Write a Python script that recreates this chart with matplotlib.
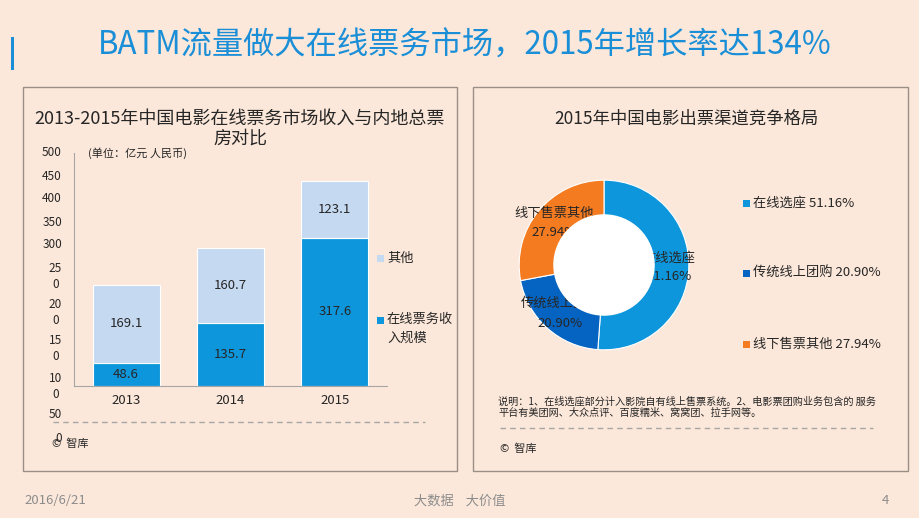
import matplotlib
matplotlib.use('Agg')
import matplotlib.pyplot as plt
from matplotlib.patches import Rectangle, Circle
import numpy as np

plt.rcParams['font.family'] = ['Noto Sans CJK SC', 'DejaVu Sans']

# data
years = ['2013', '2014', '2015']
online = [48.6, 135.7, 317.6]
other = [169.1, 160.7, 123.1]
ytick_labels = ['500', '450', '400', '350', '300', '25\n0', '20\n0', '15\n0', '10\n0', '50', '0']

channels = ['在线选座', '传统线上团购', '线下售票其他']
shares = [51.16, 20.90, 27.94]

BG = '#FCE8DA'
BLUE = '#0E96DC'
LIGHT = '#C5D9F1'
DARK = '#0563C1'
ORANGE = '#F47B20'
TXT = '#262626'

W, H = 920, 518
fig = plt.figure(figsize=(9.2, 5.18), dpi=100, facecolor=BG)


def fx(px):
    return px / W


def fy(py):
    return 1 - py / H


# slide title
fig.text(fx(465), fy(46), 'BATM流量做大在线票务市场，2015年增长率达134%',
         ha='center', va='center', fontsize=22.5, color='#1A8FD8')
fig.add_artist(Rectangle((fx(11), fy(70)), fx(3), 33 / H, transform=fig.transFigure,
                         color='#1A8FD8', lw=0))

# panels
for x0, x1 in [(23, 457), (473, 908)]:
    fig.add_artist(Rectangle((fx(x0), fy(471)), (x1 - x0) / W, 384 / H,
                             transform=fig.transFigure, fill=False,
                             edgecolor='#9A8F86', lw=1))

# ---- left: stacked bars
fig.text(fx(240), fy(129), '2013-2015年中国电影在线票务市场收入与内地总票\n房对比',
         ha='center', va='center', fontsize=13, color=TXT, linespacing=1.15)

ax = fig.add_axes([fx(74), fy(386), (387 - 74) / W, (386 - 153) / H])
ax.set_facecolor('none')
x = np.arange(len(years))
ax.bar(x, online, width=0.64, color=BLUE, edgecolor='white', lw=0.8)
ax.bar(x, other, width=0.64, bottom=online, color=LIGHT, edgecolor='white', lw=0.8)
for i in range(len(years)):
    ax.text(x[i], online[i] / 2, f'{online[i]:.1f}', ha='center', va='center', fontsize=9.5, color=TXT)
    ax.text(x[i], online[i] + other[i] / 2, f'{other[i]:.1f}', ha='center', va='center', fontsize=9.5, color=TXT)
ax.set_xlim(-0.5, 2.5)
ax.set_ylim(0, 500)
ax.set_xticks(x)
ax.set_xticklabels(years, fontsize=9.5, color=TXT)
ax.tick_params(axis='x', length=0, pad=6)
ax.set_yticks([])
for s in ['top', 'right']:
    ax.spines[s].set_visible(False)
ax.spines['left'].set_color('#A6A6A6')
ax.spines['bottom'].set_color('#A6A6A6')

# broken y tick labels as in the slide
ytick_py = [153, 176, 199, 222, 245, 277, 313, 349, 386, 415, 438]
for lab, py in zip(ytick_labels, ytick_py):
    fig.text(fx(62), fy(py), lab, ha='right', va='center', fontsize=8.5,
             color=TXT, multialignment='center', linespacing=1.3)

fig.text(fx(88), fy(153), '(单位：亿元 人民币)', ha='left', va='center', fontsize=8, color=TXT)

# legend (manual)
for lab, col, py in [('其他', LIGHT, 258), ('在线票务收\n入规模', BLUE, 329)]:
    fig.add_artist(Rectangle((fx(377), fy(py - (9 if '\n' in lab else 0) + 3.5)), 7 / W, 7 / H,
                             transform=fig.transFigure, color=col, lw=0))
    fig.text(fx(387), fy(py), lab, ha='left', va='center', fontsize=9.5, color=TXT, linespacing=1.6)

fig.add_artist(plt.Line2D([fx(53), fx(425)], [fy(422), fy(422)], transform=fig.transFigure,
                          color='#A6A6A6', lw=1, ls=(0, (4, 3))))
fig.text(fx(52), fy(444), '©  智库', ha='left', va='center', fontsize=8, color=TXT)

# ---- right: donut
fig.text(fx(687), fy(119), '2015年中国电影出票渠道竞争格局', ha='center', va='center',
         fontsize=12.5, color=TXT)

R = 101
pax = fig.add_axes([fx(604 - 1.05 * R), fy(265 + 1.05 * R), 2.1 * R / W, 2.1 * R / H])
pax.set_xlim(-1.05, 1.05)
pax.set_ylim(-1.05, 1.05)
pax.set_aspect('equal')
pax.axis('off')
labels = [f'{c}\n{s:.2f}%' for c, s in zip(channels, shares)]
wedges, texts = pax.pie(shares, colors=[BLUE, DARK, ORANGE], startangle=90, counterclock=False,
                        labels=labels, labeldistance=0.77,
                        wedgeprops=dict(edgecolor='white', linewidth=0.8),
                        textprops=dict(fontsize=9.5, color=TXT))
for t in texts:
    t.set_ha('center')
    t.set_va('center')
    t.set_zorder(3)
    t.set_linespacing(1.6)
pax.add_patch(Circle((0, 0), 0.59, color='white', zorder=4))

for c, s, col, py in zip(channels, shares, [BLUE, DARK, ORANGE], [203, 273, 344]):
    fig.add_artist(Rectangle((fx(743), fy(py + 3.5)), 7 / W, 7 / H,
                             transform=fig.transFigure, color=col, lw=0))
    fig.text(fx(753), fy(py), f'{c} {s:.2f}%', ha='left', va='center', fontsize=9.5, color=TXT)

fig.text(fx(498), fy(407), '说明：1、在线选座部分计入影院自有线上售票系统。2、电影票团购业务包含的 服务\n'
         '平台有美团网、大众点评、百度糯米、窝窝团、拉手网等。',
         ha='left', va='center', fontsize=7.3, color=TXT, linespacing=1.15)
fig.add_artist(plt.Line2D([fx(500), fx(873)], [fy(428), fy(428)], transform=fig.transFigure,
                          color='#A6A6A6', lw=1, ls=(0, (4, 3))))
fig.text(fx(500), fy(449), '©  智库', ha='left', va='center', fontsize=8, color=TXT)

# footer
fig.text(fx(24), fy(501), '2016/6/21', ha='left', va='center', fontsize=9.5, color='#8C8C8C')
fig.text(fx(460), fy(501), '大数据    大价值', ha='center', va='center', fontsize=9.5, color='#8C8C8C')
fig.text(fx(885), fy(501), '4', ha='center', va='center', fontsize=9.5, color='#8C8C8C')

fig.savefig('out.png', dpi=100, facecolor=BG)
